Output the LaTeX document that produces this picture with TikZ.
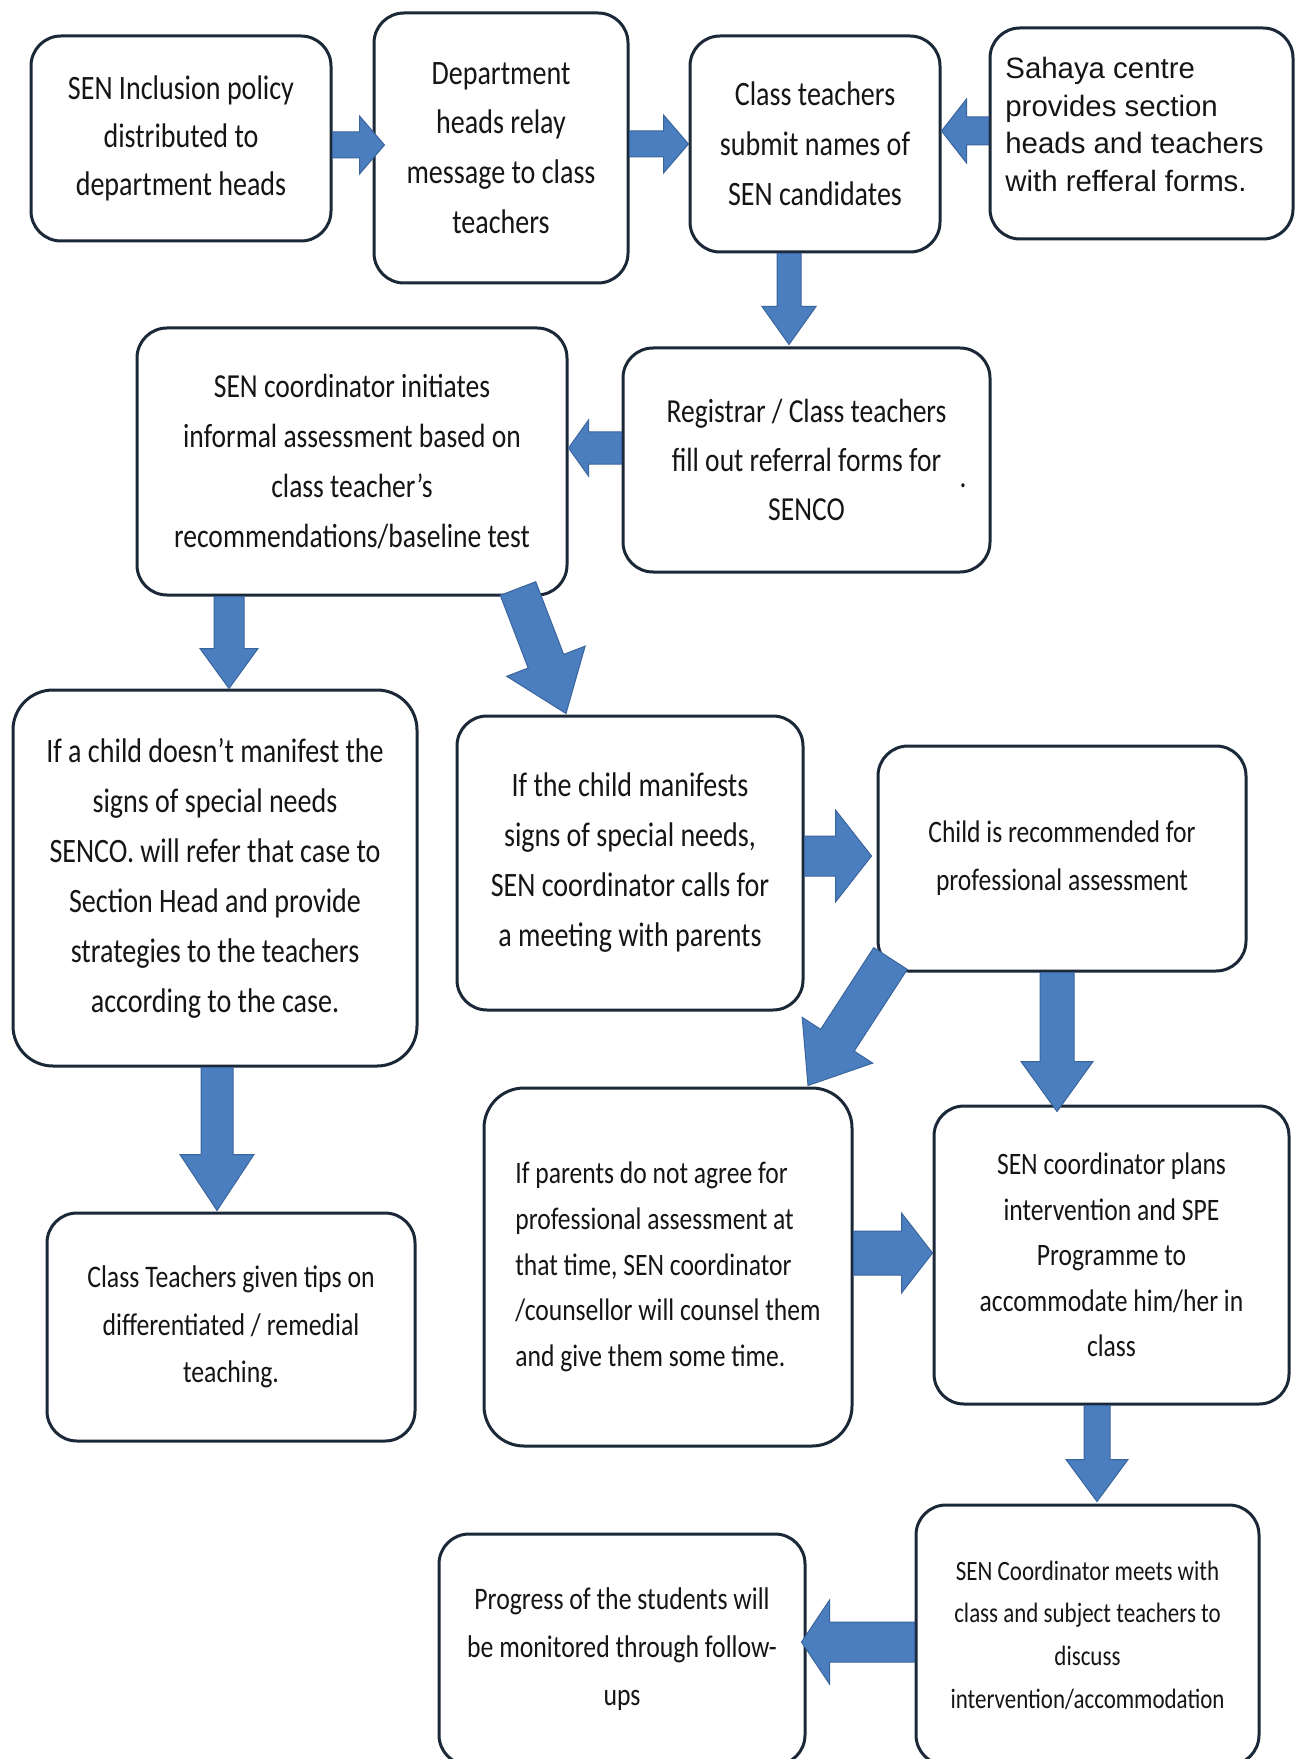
\documentclass[tikz,border=0pt]{standalone}
\usepackage{fontspec}
\setmainfont{Carlito}[FakeStretch=0.82]
\newfontfamily\arialf{Liberation Sans}
\usetikzlibrary{calc}
\definecolor{boxedge}{HTML}{1B2838}
\definecolor{arrowblue}{HTML}{4A7EBF}
\definecolor{arrowedge}{HTML}{3A659C}
\definecolor{txt}{HTML}{151515}
\tikzset{
  box/.style={draw=boxedge, line width=1.5pt, rounded corners=15pt, fill=white,
    align=center, text=txt, inner sep=0pt},
  blk/.style={fill=arrowblue, draw=arrowedge, line width=0.5pt, line join=miter},
}
\newcommand\fs[2]{\fontsize{#1}{#2}\selectfont}
% block arrow: start, end, shaft half width, head half width, head length
\newcommand\barrow[5]{%
  \coordinate (bc) at ($#2!#5!#1$);
  \path[blk] ($#1!#3!90:#2$) -- ($(bc)!#3!90:#2$) -- ($(bc)!#4!90:#2$) -- #2
    -- ($(bc)!#4!-90:#2$) -- ($(bc)!#3!-90:#2$) -- ($#1!#3!-90:#2$) -- cycle;}
\begin{document}
\begin{tikzpicture}[x=0.5pt,y=-0.5pt]
\fill[white] (0,0) rectangle (1295,1759);
\useasboundingbox (0,0) rectangle (1295,1759);

% boxes
\node[box, minimum width=150pt, minimum height=102.5pt, font=\fs{17.1}{24}] (b1) at (181,138.5)
  {SEN Inclusion policy\\distributed to\\department heads};
\node[box, minimum width=127pt, minimum height=135pt, font=\fs{17.1}{24.9}] (b2) at (501,148)
  {Department\\heads relay\\message to class\\teachers};
\node[box, minimum width=125pt, minimum height=108pt, font=\fs{17.1}{25}] (b3) at (815,144)
  {Class teachers\\submit names of\\SEN candidates};
\node[box, minimum width=151.5pt, minimum height=105.5pt] (b4) at (1141.5,133.5) {};
\node[align=left, text=txt, inner sep=0pt, font=\arialf\fs{14.7}{18.7}] (b4t) at ($(b4.center)+(-7,-9)$)
  {Sahaya centre\\provides section\\heads and teachers\\with refferal forms.};
\node[box, minimum width=215pt, minimum height=133.5pt, font=\fs{16.8}{25}] (b5) at (352,461.5)
  {SEN coordinator initiates\\informal assessment based on\\class teacher’s\\recommendations/baseline test};
\node[box, minimum width=183.5pt, minimum height=112pt, font=\fs{16.8}{24.7}] (b6) at (806.5,460)
  {Registrar / Class teachers\\fill out referral forms for\\SENCO};
\node[font=\fs{16.6}{17}, text=txt, inner sep=0pt] (dot) at (963,486) {.};
\node[box, rounded corners=20pt, minimum width=202pt, minimum height=188pt, font=\fs{17.1}{25}] (b7) at (215,878)
  {If a child doesn’t manifest the\\signs of special needs\\SENCO. will refer that case to\\Section Head and provide\\strategies to the teachers\\according to the case.};
\node[box, minimum width=173pt, minimum height=147pt, font=\fs{17.1}{25}] (b8) at (630,863)
  {If the child manifests\\signs of special needs,\\SEN coordinator calls for\\a meeting with parents};
\node[box, minimum width=184pt, minimum height=112.5pt, font=\fs{15.6}{24}] (b9) at (1062,858.5)
  {Child is recommended for\\professional assessment};
\node[box, minimum width=184pt, minimum height=114pt, font=\fs{15.7}{23.8}] (b10) at (231,1327)
  {Class Teachers given tips on\\differentiated / remedial\\teaching.};
\node[box, rounded corners=20pt, align=left, minimum width=184pt, minimum height=179pt, font=\fs{15.6}{22.8}] (b11) at (668,1267)
  {If parents do not agree for\\professional assessment at\\that time, SEN coordinator\\/counsellor will counsel them\\and give them some time.};
\node[box, minimum width=177.5pt, minimum height=149pt, font=\fs{15.6}{22.8}] (b12) at (1111.5,1255)
  {SEN coordinator plans\\intervention and SPE\\Programme to\\accommodate him/her in\\class};
\node[box, minimum width=171.5pt, minimum height=130pt, font=\fs{14}{21.3}] (b13) at (1087.5,1635)
  {SEN Coordinator meets with\\class and subject teachers to\\discuss\\intervention/accommodation};
\node[box, minimum width=183pt, minimum height=115.5pt, font=\fs{15.7}{24}] (b14) at (622,1649.5)
  {Progress of the students will\\be monitored through follow-\\ups};

% arrow end points
\coordinate (a1s) at ($(b1.east)+(0,6.5)$);   \coordinate (a1e) at ($(b2.west)+(12,-3)$);
\coordinate (a2s) at ($(b2.east)+(0,-4)$);    \coordinate (a2e) at ($(b3.west)+(0,0)$);
\coordinate (a3s) at ($(b4.west)+(0,-2.5)$);  \coordinate (a3e) at ($(b3.east)+(0,-13)$);
\coordinate (a4s) at ($(b3.south)+(-26,0)$);  \coordinate (a4e) at ($(b6.north)+(-17.5,-2)$);
\coordinate (a5s) at ($(b6.west)+(0,-12)$);   \coordinate (a5e) at ($(b5.east)+(0,-13.5)$);
\coordinate (a6s) at ($(b5.south)+(-123,0)$); \coordinate (a6e) at ($(b7.north)+(14,0)$);
\coordinate (a7s) at ($(b5.south)+(166,-8)$); \coordinate (a7e) at ($(b8.north)+(-64,-1)$);
\coordinate (a8s) at ($(b8.east)+(0,-7)$);    \coordinate (a8e) at ($(b9.west)+(-5,-2.5)$);
\coordinate (a9s) at ($(b9.south west)+(14,-14)$); \coordinate (a9e) at ($(b11.north)+(140,-1)$);
\coordinate (a10s) at ($(b9.south)+(-5,0)$);  \coordinate (a10e) at ($(b12.north)+(-54.5,7)$);
\coordinate (a11s) at ($(b7.south)+(2,0)$);   \coordinate (a11e) at ($(b10.north)+(-14,-1)$);
\coordinate (a12s) at ($(b11.east)+(0,-14)$); \coordinate (a12e) at ($(b12.west)+(0,-2)$);
\coordinate (a13s) at ($(b12.south)+(-14.5,0)$); \coordinate (a13e) at ($(b13.north)+(9.5,-2)$);
\coordinate (a14s) at ($(b13.west)+(0,7)$);   \coordinate (a14e) at ($(b14.east)+(-5,-7.5)$);

% block arrows
\barrow{(a1s)}{(a1e)}{6.5pt}{14.5pt}{12.5pt}
\barrow{(a2s)}{(a2e)}{6.5pt}{14.5pt}{12.5pt}
\barrow{(a3s)}{(a3e)}{7pt}{16pt}{12.5pt}
\barrow{(a4s)}{(a4e)}{6pt}{13.5pt}{19pt}
\barrow{(a5s)}{(a5e)}{8pt}{14pt}{10pt}
\barrow{(a6s)}{(a6e)}{7.5pt}{14.5pt}{20pt}
\barrow{(a7s)}{(a7e)}{9.5pt}{21pt}{28pt}
\barrow{(a8s)}{(a8e)}{10pt}{23pt}{18pt}
\barrow{(a9s)}{(a9e)}{10pt}{21pt}{27pt}
\barrow{(a10s)}{(a10e)}{8.5pt}{18pt}{25pt}
\barrow{(a11s)}{(a11e)}{8pt}{18.5pt}{28pt}
\barrow{(a12s)}{(a12e)}{11pt}{20pt}{15.5pt}
\barrow{(a13s)}{(a13e)}{6.5pt}{15.5pt}{21pt}
\barrow{(a14s)}{(a14e)}{10pt}{21pt}{14pt}
\end{tikzpicture}
\end{document}
